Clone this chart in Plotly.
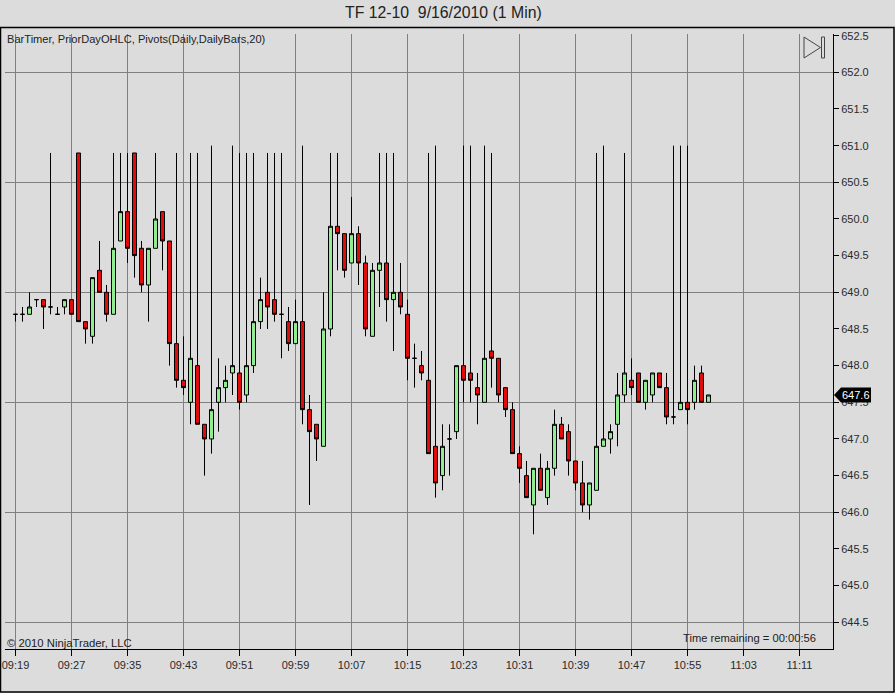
import pandas as pd
import plotly.graph_objects as go

TITLE = "TF 12-10\u00a0\u00a09/16/2010 (1 Min)"
START = "2010-09-16 09:19"
LAST_PRICE = 647.6

opens = [648.7,648.7,648.7,648.9,648.9,648.8,648.7,648.8,648.9,650.9,
         648.6,648.4,649.3,649.0,648.7,649.7,650.1,650.9,649.6,649.1,
         649.6,650.1,649.7,648.3,647.8,647.5,648.0,647.2,647.0,647.5,
         647.7,647.9,647.9,647.6,648.0,648.6,649.0,648.9,648.7,648.6,
         648.3,648.6,647.4,647.2,646.9,648.5,649.9,649.8,649.4,649.8,
         649.4,648.4,649.3,649.4,648.9,649.0,648.7,648.1,648.0,647.8,
         646.9,646.5,647.0,647.1,648.0,647.9,647.7,647.5,648.2,648.1,
         647.7,647.4,646.8,646.5,646.1,646.6,646.2,646.6,647.2,647.1,
         646.7,646.4,646.1,646.3,646.9,647.0,647.2,647.6,647.8,647.9,
         647.5,647.6,647.9,647.7,647.3,647.4,647.5,647.5,647.9,647.5]
highs = [648.7,648.8,649.0,648.9,648.9,650.9,648.8,648.9,648.9,650.9,
         648.6,649.2,649.7,649.1,650.9,650.9,650.9,650.9,649.7,649.6,
         650.9,650.1,649.7,650.9,648.4,650.9,650.9,647.2,651.0,648.1,
         648.0,651.0,650.9,650.9,650.9,649.2,650.9,650.9,650.9,648.8,
         648.9,651.0,647.6,647.2,649.0,650.9,650.9,649.8,650.3,649.9,
         649.5,649.4,650.9,650.9,650.9,649.4,648.9,648.3,648.2,650.9,
         651.0,647.2,647.2,648.0,651.0,651.0,647.9,651.0,650.9,648.1,
         647.7,647.5,646.9,646.7,646.6,646.8,646.7,647.4,647.3,647.2,
         646.7,646.7,646.4,650.9,651.0,647.2,647.9,650.9,648.1,647.9,
         647.8,647.9,647.9,647.9,651.0,651.0,651.0,648.0,648.0,647.6]
lows = [648.6,648.6,648.7,648.8,648.5,648.7,648.7,648.7,648.7,648.6,
        648.3,648.3,649.0,648.6,648.7,649.7,649.4,649.2,649.0,648.6,
        649.6,649.3,648.0,647.7,647.6,647.2,647.2,646.5,646.8,647.1,
        647.5,647.6,647.4,647.5,647.9,648.5,648.5,648.6,648.1,648.2,
        648.3,647.2,646.1,646.7,646.9,648.4,649.3,649.2,649.4,649.1,
        648.4,648.4,648.8,648.6,648.2,648.7,647.8,647.7,647.8,646.8,
        646.2,646.3,646.5,647.0,647.5,647.5,647.2,647.5,647.7,647.5,
        647.3,646.8,646.4,646.2,645.7,646.3,646.1,646.5,647.0,646.5,
        646.3,646.0,645.9,646.3,646.9,646.8,646.9,647.5,647.6,647.5,
        647.4,647.5,647.7,647.2,647.2,647.4,647.2,647.4,647.5,647.5]
closes = [648.7,648.7,648.8,648.9,648.8,648.8,648.7,648.9,648.7,648.6,
          648.5,649.2,649.0,648.7,649.6,650.1,649.6,649.5,649.1,649.6,
          650.0,649.7,648.3,647.8,647.7,648.1,647.2,647.0,647.4,647.7,
          647.8,648.0,647.5,648.0,648.6,648.9,648.8,648.7,648.7,648.3,
          648.6,647.4,647.1,647.0,648.5,649.9,649.8,649.3,649.8,649.4,
          648.5,649.3,649.4,648.9,649.0,648.8,648.1,648.1,647.9,646.8,
          646.4,646.9,647.0,648.0,647.8,647.8,647.6,648.1,648.1,647.6,
          647.4,646.8,646.6,646.2,646.6,646.3,646.6,647.2,647.0,646.7,
          646.4,646.1,646.4,646.9,647.0,647.1,647.6,647.9,647.7,647.5,
          647.8,647.9,647.7,647.3,647.3,647.5,647.4,647.8,647.5,647.6]

times = pd.date_range(START, periods=len(opens), freq="min")

W, H = 895, 693
L, R, T, B = 5, 833, 34, 649
BG = "#dcdcdc"
GRID = "#808080"
INK = "#2a2a2a"
FONT = "Liberation Sans"
PX_PER_MIN = 7.0
X0 = 15.5
PX_PER_UNIT = 73.33
Y_REF_PX, Y_REF = 402.3, 647.5


def px_x(p):
    return (p - L) / (R - L)


def px_y(p):
    return (B - p) / (B - T)


t0 = pd.Timestamp(START)
x_range = [t0 + pd.Timedelta(minutes=(L - X0) / PX_PER_MIN),
           t0 + pd.Timedelta(minutes=(R - X0) / PX_PER_MIN)]
y_range = [Y_REF - (B - Y_REF_PX) / PX_PER_UNIT,
           Y_REF + (Y_REF_PX - T) / PX_PER_UNIT]

fig = go.Figure()
fig.add_trace(go.Candlestick(
    x=times, open=opens, high=highs, low=lows, close=closes,
    increasing=dict(line=dict(color="black", width=1), fillcolor="#90ee90"),
    decreasing=dict(line=dict(color="black", width=1), fillcolor="#e00c0c"),
    whiskerwidth=0, showlegend=False, hoverinfo="skip",
))
fig.add_trace(go.Scatter(x=[times[0]], y=[LAST_PRICE], yaxis="y2", mode="none",
                         showlegend=False, hoverinfo="skip"))

shapes = [
    dict(type="rect", xref="paper", yref="paper",
         x0=px_x(0.5), x1=px_x(894), y0=px_y(692), y1=px_y(27.5),
         line=dict(color="black", width=1.5), layer="below"),
    dict(type="path", xref="paper", yref="y", xsizemode="pixel", ysizemode="pixel",
         xanchor=1, yanchor=LAST_PRICE,
         path="M 1 0 L 8 -7.5 L 38 -7.5 L 38 7.5 L 8 7.5 Z",
         fillcolor="black", line=dict(width=0), layer="above"),
    dict(type="path", xref="paper", yref="paper",
         path=f"M {px_x(804)} {px_y(37)} L {px_x(804)} {px_y(58)} L {px_x(820.5)} {px_y(47.5)} Z",
         line=dict(color="#444444", width=1)),
    dict(type="rect", xref="paper", yref="paper",
         x0=px_x(821.5), x1=px_x(824.5), y0=px_y(58), y1=px_y(37),
         line=dict(color="#444444", width=1)),
]

annotations = [
    dict(text=TITLE, xref="paper", yref="paper", x=px_x(443.5), y=px_y(13), yanchor="middle",
         showarrow=False, borderpad=0, font=dict(family=FONT, size=15.8, color="#222222")),
    dict(text="BarTimer, PriorDayOHLC, Pivots(Daily,DailyBars,20)",
         xref="paper", yref="paper", x=px_x(6), y=px_y(39), xanchor="left", yanchor="middle",
         showarrow=False, borderpad=0, font=dict(family=FONT, size=11.1, color="#222222")),
    dict(text="\u00a9 2010 NinjaTrader, LLC", xref="paper", yref="paper",
         x=px_x(6), y=px_y(643), xanchor="left", yanchor="middle",
         showarrow=False, borderpad=0, font=dict(family=FONT, size=11.3, color="#222222")),
    dict(text="Time remaining = 00:00:56", xref="paper", yref="paper",
         x=px_x(817), y=px_y(638), xanchor="right", yanchor="middle",
         showarrow=False, borderpad=0, font=dict(family=FONT, size=11.2, color="#222222")),
    dict(text=f"{LAST_PRICE:.1f}", xref="paper", yref="y", x=px_x(841), y=LAST_PRICE,
         xanchor="left", yanchor="middle", showarrow=False, borderpad=0,
         font=dict(family=FONT, size=11, color="white")),
]

fig.update_layout(
    template="none",
    width=W, height=H,
    margin=dict(l=L, r=W - R, t=T, b=H - B, pad=0),
    paper_bgcolor=BG, plot_bgcolor=BG, boxgap=0.43, boxgroupgap=0,
    shapes=shapes, annotations=annotations, showlegend=False,
    xaxis=dict(
        type="date", range=x_range, rangeslider=dict(visible=False), automargin=False,
        tick0=t0, dtick=8 * 60 * 1000, tickformat="%H:%M",
        showgrid=True, gridcolor=GRID, gridwidth=1,
        showline=True, linecolor="black", linewidth=1, mirror=False,
        ticks="outside", ticklen=6, tickcolor="black", tickwidth=1,
        tickfont=dict(family=FONT, size=11, color=INK), zeroline=False,
    ),
    yaxis=dict(
        range=y_range, side="right", tick0=644.5, dtick=0.5, tickformat=".1f",
        automargin=False, showgrid=False, showline=True, linecolor="black", linewidth=1,
        ticks="outside", ticklen=5, tickcolor="black", tickwidth=1,
        tickfont=dict(family=FONT, size=11, color=INK), zeroline=False,
    ),
    yaxis2=dict(
        range=y_range, overlaying="y", side="right", tick0=644.5, dtick=1.5,
        automargin=False, showgrid=True, gridcolor=GRID, gridwidth=1, showticklabels=False,
        ticks="", showline=False, zeroline=False,
    ),
)

fig.write_html("out.html", config={"displayModeBar": False},
               post_script="document.body.style.margin='0';")
